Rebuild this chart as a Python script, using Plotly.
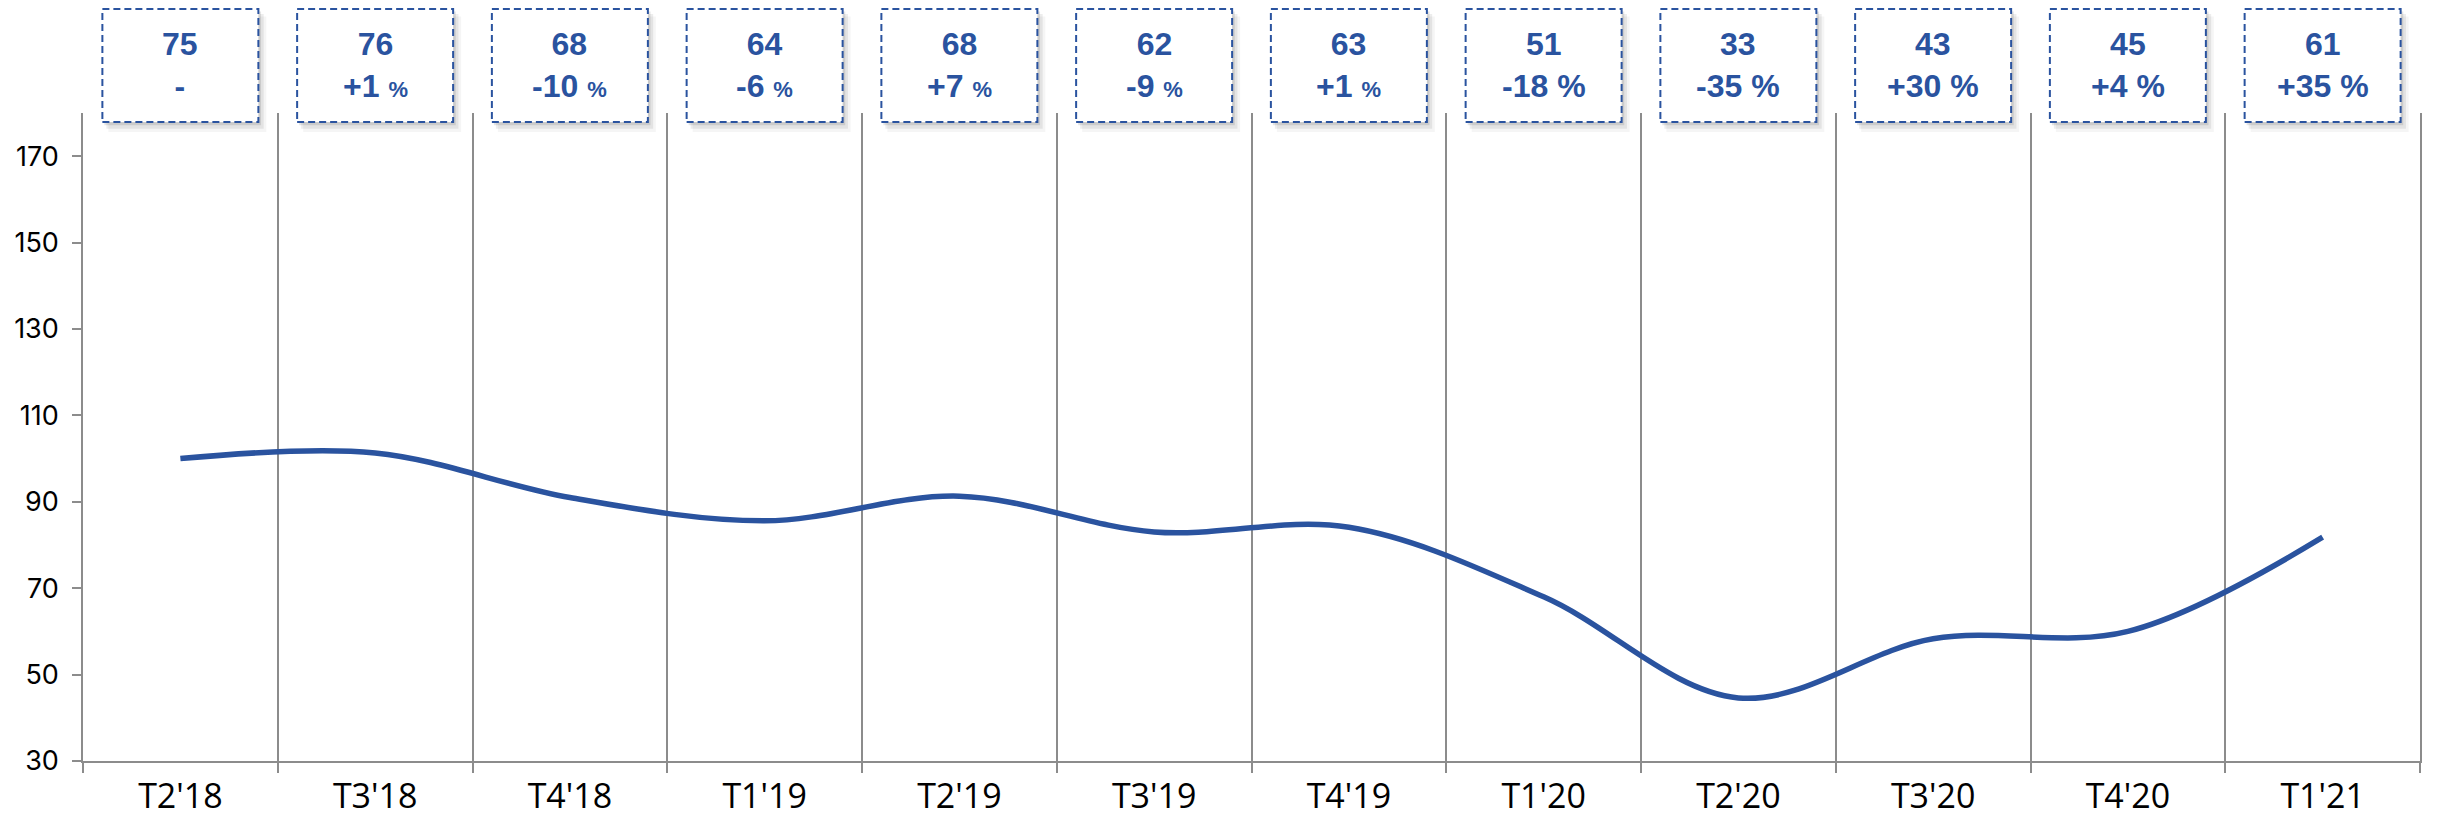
import plotly.graph_objects as go

categories = ["T2'18", "T3'18", "T4'18", "T1'19", "T2'19", "T3'19",
              "T4'19", "T1'20", "T2'20", "T3'20", "T4'20", "T1'21"]
index_values = [100, 101.3, 91, 85.6, 91.3, 83, 84.1, 68, 44.6, 58.3, 60, 81.8]
box_values = ["75", "76", "68", "64", "68", "62", "63", "51", "33", "43", "45", "61"]
box_changes = ["-", "+1", "-10", "-6", "+7", "-9", "+1", "-18", "-35", "+30", "+4", "+35"]
small_pct = [True, True, True, True, True, True, True, False, False, False, False, False]

BLUE = "#2A539F"
GRAY = "#8C8C8C"

W, H = 2437, 817
ML, MR, MT, MB = 83, 17, 113, 56
plot_h = H - MT - MB
plot_w = W - ML - MR
cat_px = plot_w / len(categories)

fig = go.Figure()
fig.add_trace(go.Scatter(
    x=categories, y=index_values, mode="lines",
    line=dict(color=BLUE, width=5.5, shape="spline", smoothing=1.0),
    hoverinfo="skip", showlegend=False,
))

def py(px_from_top_of_plot):
    return 1 - px_from_top_of_plot / plot_h

box_half = 78 / cat_px
box_top = py(9 - MT)
box_bot = py(122 - MT)
sh_dx = 4 / cat_px
sh_dy = 5 / plot_h

shapes = []
annotations = []
for i, (v, c, sm) in enumerate(zip(box_values, box_changes, small_pct)):
    for k, op in [(1, 0.10), (2, 0.07), (3, 0.04)]:
        shapes.append(dict(type="rect", xref="x", yref="paper",
                           x0=i - box_half + sh_dx * k / 2, x1=i + box_half + sh_dx * k / 1.5,
                           y0=box_bot - sh_dy * k / 1.5, y1=box_top - sh_dy * k / 2,
                           fillcolor=f"rgba(0,0,0,{op})", line=dict(width=0), layer="above"))
    shapes.append(dict(type="rect", xref="x", yref="paper",
                       x0=i - box_half, x1=i + box_half, y0=box_bot, y1=box_top,
                       fillcolor="white", line=dict(color=BLUE, width=2, dash="7px,4px"),
                       layer="above"))
    if c == "-":
        line2 = "-"
    elif sm:
        line2 = f"{c} <span style='font-size:22px'>%</span>"
    else:
        line2 = f"{c} %"
    annotations.append(dict(
        x=i, xref="x", y=(box_top + box_bot) / 2, yref="paper",
        text=f"{v}<br>{line2}", showarrow=False, xanchor="center", yanchor="middle",
        font=dict(family="Liberation Sans, Arial, sans-serif", size=32, color=BLUE, weight="bold"),
        align="center",
    ))

fig.update_layout(
    width=W, height=H,
    margin=dict(l=ML, r=MR, t=MT, b=MB, pad=0, autoexpand=False),
    plot_bgcolor="white", paper_bgcolor="white",
    shapes=shapes, annotations=annotations,
    xaxis=dict(
        type="category", range=[-0.5, len(categories) - 0.5], automargin=False,
        tickson="boundaries", ticks="outside", ticklen=10, tickcolor=GRAY, tickwidth=1.5,
        showgrid=True, gridcolor=GRAY, gridwidth=1.5,
        showline=True, linecolor=GRAY, linewidth=1.5,
        tickfont=dict(family="Open Sans, Noto Sans, sans-serif", size=34, color="#000"),
        ticklabelstandoff=4,
    ),
    yaxis=dict(
        range=[30, 180], tick0=30, dtick=20, tickmode="linear", automargin=False,
        ticks="outside", ticklen=9, tickcolor=GRAY, tickwidth=1.5,
        showgrid=False, zeroline=False,
        showline=True, linecolor=GRAY, linewidth=1.5, mirror=True,
        tickfont=dict(family="Inter, Lato, sans-serif", size=27, color="#000"),
        ticklabelstandoff=8,
    ),
)
fig.write_html("out.html")
